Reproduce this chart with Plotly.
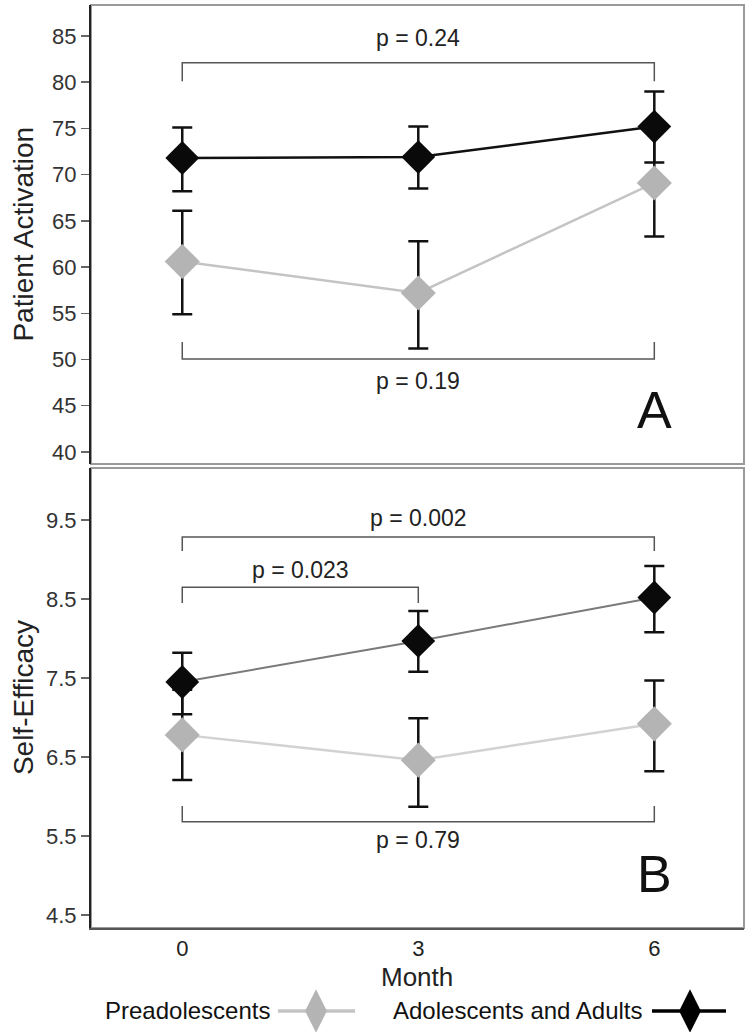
import plotly.graph_objects as go

# ---------------- data ----------------
months = [0, 3, 6]
month_ticks = ["0", "3", "6"]

# Panel A: Patient Activation
pa_pre_mean = [60.6, 57.2, 69.1]
pa_pre_low = [54.9, 51.2, 63.3]
pa_pre_high = [66.1, 62.8, 74.9]
pa_adult_mean = [71.8, 71.9, 75.2]
pa_adult_low = [68.2, 68.5, 71.3]
pa_adult_high = [75.1, 75.2, 79.0]

# Panel B: Self-Efficacy
se_pre_mean = [6.78, 6.46, 6.92]
se_pre_low = [6.21, 5.87, 6.32]
se_pre_high = [7.35, 6.99, 7.47]
se_adult_mean = [7.45, 7.97, 8.52]
se_adult_low = [7.04, 7.58, 8.08]
se_adult_high = [7.82, 8.35, 8.92]

pa_ticks = [40, 45, 50, 55, 60, 65, 70, 75, 80, 85]
se_ticks = [4.5, 5.5, 6.5, 7.5, 8.5, 9.5]
se_tick_labels = ["4.5", "5.5", "6.5", "7.5", "8.5", "9.5"]

# significance brackets: (x0, x1, y_bar, y_leg_end, label, label_x, label_y)
pa_brackets = [(0, 6, 82.1, 80.1, "p = 0.24", 3, 84.8),
               (0, 6, 50.05, 51.9, "p = 0.19", 3, 47.7)]
se_brackets = [(0, 6, 9.285, 9.11, "p = 0.002", 3, 9.525),
               (0, 3, 8.65, 8.45, "p = 0.023", 1.5, 8.867),
               (0, 6, 5.68, 5.88, "p = 0.79", 3, 5.45)]

FONT = "Liberation Sans, Arial, Helvetica, sans-serif"
PRE_MARK = "#b4b4b4"
ADULT_MARK = "#0a0a0a"

fig = go.Figure()


def add_panel(xa, ya, pre_m, pre_lo, pre_hi, ad_m, ad_lo, ad_hi, pre_line, ad_line, ad_lw):
    for m, lo, hi in ((pre_m, pre_lo, pre_hi), (ad_m, ad_lo, ad_hi)):
        fig.add_trace(go.Scatter(
            x=months, y=m, mode="markers", xaxis=xa, yaxis=ya, showlegend=False,
            marker=dict(size=1, color="rgba(0,0,0,0)"),
            error_y=dict(type="data", symmetric=False,
                         array=[h - v for h, v in zip(hi, m)],
                         arrayminus=[v - l for v, l in zip(m, lo)],
                         color="#111111", thickness=2.5, width=10),
            hoverinfo="skip"))
    fig.add_trace(go.Scatter(
        x=months, y=pre_m, mode="lines+markers", xaxis=xa, yaxis=ya, showlegend=False,
        line=dict(color=pre_line, width=2.5),
        marker=dict(symbol="diamond", size=27, color=PRE_MARK)))
    fig.add_trace(go.Scatter(
        x=months, y=ad_m, mode="lines+markers", xaxis=xa, yaxis=ya, showlegend=False,
        line=dict(color=ad_line, width=ad_lw),
        marker=dict(symbol="diamond", size=26, color=ADULT_MARK)))


add_panel("x", "y", pa_pre_mean, pa_pre_low, pa_pre_high,
          pa_adult_mean, pa_adult_low, pa_adult_high, "#c4c4c4", "#111111", 2.5)
add_panel("x2", "y2", se_pre_mean, se_pre_low, se_pre_high,
          se_adult_mean, se_adult_low, se_adult_high, "#d2d2d2", "#7a7a7a", 2)

# legend marks on a hidden helper axis (pixel-like coordinates)
leg_pre_x = [278, 316, 355]
leg_ad_x = [652, 690, 726]
fig.add_trace(go.Scatter(x=leg_pre_x, y=[0, 0, 0], mode="lines", xaxis="x3", yaxis="y3",
                         showlegend=False, cliponaxis=False,
                         line=dict(color="#c4c4c4", width=3.5)))
fig.add_trace(go.Scatter(x=[leg_pre_x[1]], y=[0], mode="markers", xaxis="x3", yaxis="y3",
                         showlegend=False, cliponaxis=False,
                         marker=dict(symbol="diamond-tall", size=31, color=PRE_MARK)))
fig.add_trace(go.Scatter(x=leg_ad_x, y=[0, 0, 0], mode="lines", xaxis="x3", yaxis="y3",
                         showlegend=False, cliponaxis=False,
                         line=dict(color="#000000", width=3.5)))
fig.add_trace(go.Scatter(x=[leg_ad_x[1]], y=[0], mode="markers", xaxis="x3", yaxis="y3",
                         showlegend=False, cliponaxis=False,
                         marker=dict(symbol="diamond-tall", size=31, color="#000000")))

shapes = []
annotations = []
for xr, yr, brs in (("x", "y", pa_brackets), ("x2", "y2", se_brackets)):
    for x0, x1, yb, yl, lab, lx, ly in brs:
        shapes.append(dict(type="path", xref=xr, yref=yr,
                           path=f"M {x0},{yl} L {x0},{yb} L {x1},{yb} L {x1},{yl}",
                           line=dict(color="#555555", width=1.5)))
        annotations.append(dict(x=lx, y=ly, xref=xr, yref=yr, text=lab, showarrow=False,
                                xanchor="center", yanchor="middle",
                                font=dict(family=FONT, size=23, color="#222222")))
    shapes.append(dict(type="rect", xref=xr + " domain", yref=yr + " domain",
                       x0=0, x1=1, y0=0, y1=1, line=dict(color="#9a9a9a", width=2),
                       layer="below"))

annotations += [
    dict(x=6, y=44.5, xref="x", yref="y", text="A", showarrow=False,
         font=dict(family=FONT, size=52, color="#111111")),
    dict(x=6, y=5.02, xref="x2", yref="y2", text="B", showarrow=False,
         font=dict(family=FONT, size=52, color="#111111")),
    dict(x=-0.104, y=0.7765, xref="paper", yref="paper", text="Patient Activation",
         textangle=-90, showarrow=False, xanchor="center", yanchor="middle",
         font=dict(family=FONT, size=28, color="#222222")),
    dict(x=-0.104, y=0.3252, xref="paper", yref="paper", text="Self-Efficacy",
         textangle=-90, showarrow=False, xanchor="center", yanchor="middle",
         font=dict(family=FONT, size=28, color="#222222")),
    dict(x=0.499, y=0.0535, xref="paper", yref="paper", text="Month",
         showarrow=False, xanchor="center", yanchor="middle",
         font=dict(family=FONT, size=26, color="#222222")),
    dict(x=272, y=0, xref="x3", yref="y3", text="Preadolescents", showarrow=False,
         xanchor="right", yanchor="middle", font=dict(family=FONT, size=24, color="#111111")),
    dict(x=645, y=0, xref="x3", yref="y3", text="Adolescents and Adults", showarrow=False,
         xanchor="right", yanchor="middle", font=dict(family=FONT, size=24, color="#111111")),
]

yaxis_common = dict(showline=True, linecolor="#222222", linewidth=2, ticks="outside",
                    ticklen=8, tickwidth=1.5, tickcolor="#666666", showgrid=False,
                    zeroline=False, automargin=False,
                    tickfont=dict(family=FONT, size=22, color="#333333"))

fig.update_layout(
    width=748, height=1032,
    margin=dict(l=91, r=4, t=5, b=0),
    paper_bgcolor="white", plot_bgcolor="white",
    showlegend=False,
    xaxis=dict(domain=[0, 1], range=[-1.16, 7.14], anchor="y", showticklabels=False,
               ticks="", showgrid=False, zeroline=False, showline=False, matches="x2"),
    yaxis=dict(domain=[0.5531, 1.0], range=[38.7, 88.35], anchor="x",
               tickvals=pa_ticks, **yaxis_common),
    xaxis2=dict(domain=[0, 1], range=[-1.16, 7.14], anchor="y2", tickvals=months,
                ticktext=month_ticks, ticks="", showgrid=False, zeroline=False,
                showline=True, linecolor="#555555", linewidth=2, automargin=False,
                tickfont=dict(family=FONT, size=22, color="#222222")),
    yaxis2=dict(domain=[0.1013, 0.5492], range=[4.335, 10.16], anchor="x2",
                tickvals=se_ticks, ticktext=se_tick_labels, **yaxis_common),
    xaxis3=dict(domain=[0, 1], range=[91, 744], anchor="y3", visible=False),
    yaxis3=dict(domain=[0, 0.0409], range=[-1, 1], anchor="x3", visible=False),
    shapes=shapes,
    annotations=annotations,
)

fig.write_html("out.html",
               config={"displayModeBar": False, "staticPlot": True},
               post_script="document.body.style.margin='0';document.body.style.overflow='hidden';")
